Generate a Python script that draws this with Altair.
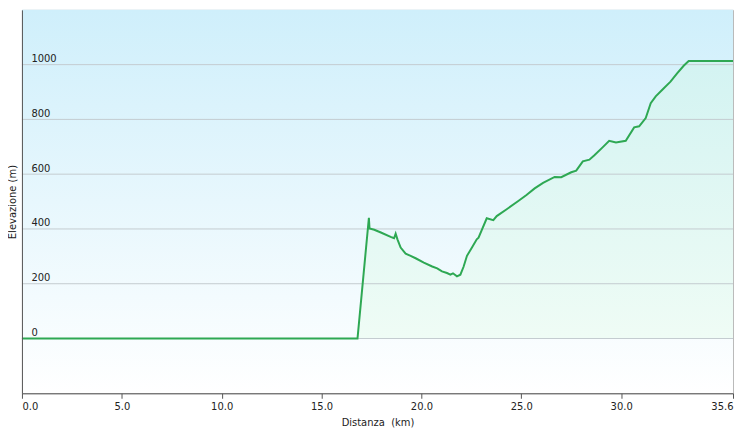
import altair as alt
import pandas as pd

distance_km = [0, 16.8, 17.37, 17.4, 17.64, 17.97, 18.46, 18.63, 18.71, 18.8, 18.96,
               19.21, 19.46, 19.71, 20.12, 20.54, 20.79, 21.03, 21.28, 21.45, 21.58,
               21.78, 21.95, 22.11, 22.28, 22.53, 22.77, 22.86, 23.27, 23.6, 23.77,
               24.27, 24.85, 25.26, 25.67, 26.09, 26.67, 27.0, 27.5, 27.75, 28.08,
               28.41, 28.66, 29.07, 29.40, 29.74, 30.23, 30.65, 30.9, 31.23, 31.48,
               31.73, 32.06, 32.47, 32.8, 33.13, 33.38, 35.6]
elevation_m = [0, 0, 441, 402, 397, 387, 371, 366, 383, 362, 332,
               310, 302, 293, 277, 263, 256, 245, 239, 233, 238,
               227, 233, 262, 302, 332, 362, 368, 439, 432, 447,
               472, 502, 524, 548, 568, 590, 589, 607, 613, 647,
               653, 669, 698, 722, 716, 722, 771, 775, 805, 859,
               884, 908, 938, 968, 996, 1013, 1013]

x_ticks = [0, 5, 10, 15, 20, 25, 30, 35.6]
y_ticks = [0, 200, 400, 600, 800, 1000]

df = pd.DataFrame({"d": distance_km, "e": elevation_m})
grid_df = pd.DataFrame({"e": y_ticks})
bg_df = pd.DataFrame({"k": [0]})

W, H = 714, 385
FONT = "DejaVu Sans"

x_scale = alt.Scale(domain=[0, 35.6], nice=False, zero=False)
y_scale = alt.Scale(domain=[-200, 1200], nice=False, zero=False)

x_enc = alt.X("d:Q", title="Distanza\u00a0 (km)", scale=x_scale,
              axis=alt.Axis(values=x_ticks, format=".1f", grid=False,
                            tickSize=5, tickColor="#555555", domainColor="#555555",
                            labelPadding=3, labelFlush=True, labelFontSize=10,
                            labelColor="#222222", labelFont=FONT,
                            titleFont=FONT, titleFontSize=10, titleFontWeight="normal",
                            titleColor="#222222", titlePadding=6, zindex=1))
y_enc = alt.Y("e:Q", title="Elevazione (m)", scale=y_scale,
              axis=alt.Axis(values=y_ticks, format="d", grid=False,
                            ticks=False, tickSize=0, domainColor="#555555",
                            labelAlign="left", labelPadding=-9, labelBaseline="alphabetic",
                            labelOffset=-3, labelFontSize=10, labelColor="#222222",
                            labelFont=FONT, titleFont=FONT, titleFontSize=10,
                            titleFontWeight="normal", titleColor="#222222",
                            titleX=-9, titleY=H / 2, titleAngle=270,
                            titleBaseline="middle", titleAlign="center", zindex=1))

bg = alt.Chart(bg_df).mark_rect(
    fill=alt.Gradient(gradient="linear", x1=0, x2=0, y1=0, y2=1,
                      stops=[alt.GradientStop(color="#cfeffb", offset=0),
                             alt.GradientStop(color="#ffffff", offset=1)]),
).encode(x=alt.value(0), x2=alt.value(W), y=alt.value(0), y2=alt.value(H))

area = alt.Chart(df).mark_area(
    fill=alt.Gradient(gradient="linear", x1=0, x2=0, y1=0, y2=1,
                      stops=[alt.GradientStop(color="#d3f3f2", offset=0),
                             alt.GradientStop(color="#effcf5", offset=1)]),
    interpolate="linear"
).encode(x=x_enc, y=y_enc, y2=alt.value(H))

grid = alt.Chart(grid_df).mark_rule(color="#c4ccd0", strokeWidth=1).encode(
    y=alt.Y("e:Q", scale=y_scale))

line = alt.Chart(df).mark_line(color="#2ea853", strokeWidth=2).encode(x="d:Q", y="e:Q")

chart = alt.layer(bg, area, grid, line).properties(
    width=W, height=H,
    padding={"top": 1, "left": 0, "right": 0, "bottom": 0},
).configure_view(stroke="#b8b8b8")

chart.save("out.html", embed_options={"renderer": "svg", "actions": False})
